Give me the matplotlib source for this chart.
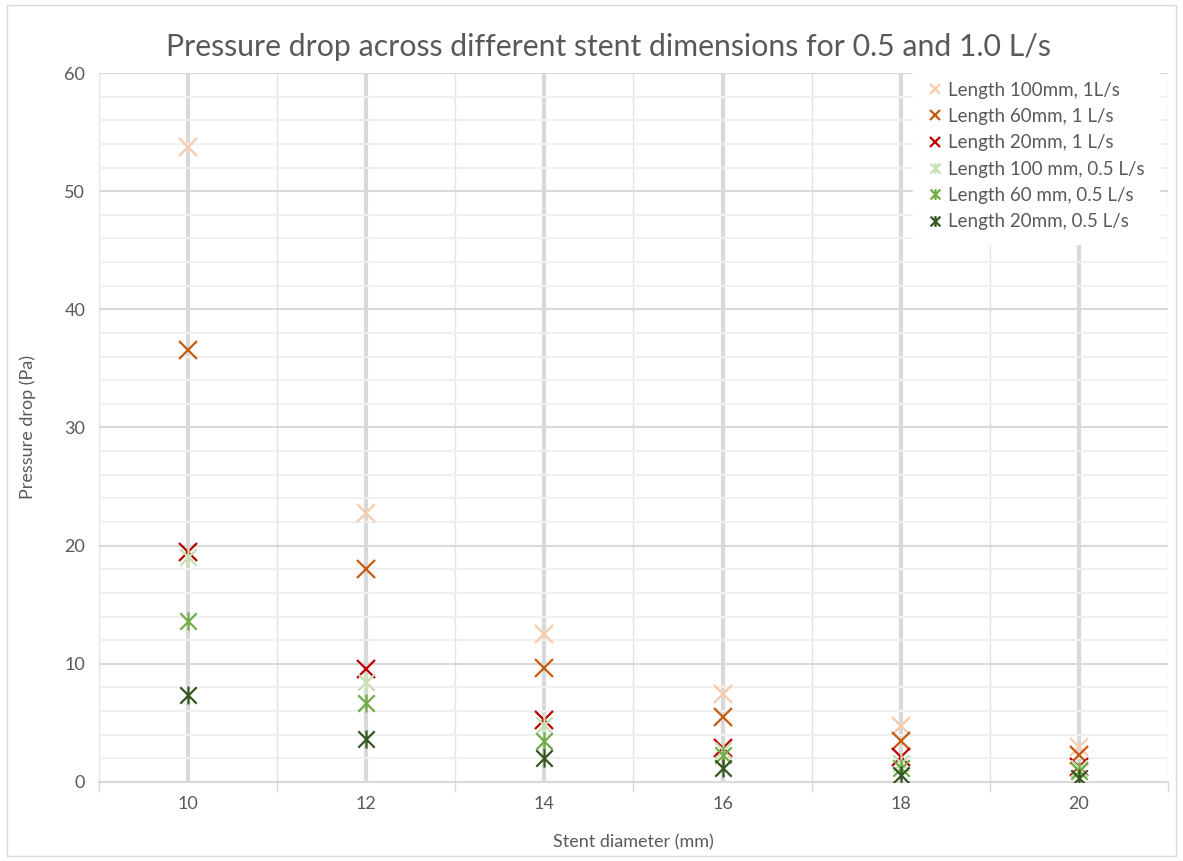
import matplotlib.pyplot as plt
import numpy as np
from matplotlib.path import Path
from matplotlib.patches import Rectangle

plt.rcParams['font.family'] = ['Lato', 'DejaVu Sans']

diameters = ['10', '12', '14', '16', '18', '20']

l100_1 = [53.7, 22.8, 12.5, 7.45, 4.7, 2.95]
l60_1 = [36.6, 18.0, 9.65, 5.5, 3.5, 2.3]
l20_1 = [19.5, 9.6, 5.25, 2.9, 2.1, 1.3]
l100_05 = [19.0, 8.5, 4.8, 2.7, 1.6, 1.2]
l60_05 = [13.6, 6.7, 3.5, 2.3, 1.2, 0.9]
l20_05 = [7.4, 3.6, 2.0, 1.2, 0.6, 0.35]

labels = ['Length 100mm, 1L/s', 'Length 60mm, 1 L/s', 'Length 20mm, 1 L/s',
          'Length 100 mm, 0.5 L/s', 'Length 60 mm, 0.5 L/s', 'Length 20mm, 0.5 L/s']
colors = ['#F8CBAD', '#C55A11', '#C00000', '#C5E0B4', '#70AD47', '#375623']

# excel "star" marker: x plus a vertical bar
star = Path([(-1, -1), (1, 1), (-1, 1), (1, -1), (0, -1.1), (0, 1.1)],
            [Path.MOVETO, Path.LINETO, Path.MOVETO, Path.LINETO, Path.MOVETO, Path.LINETO])

series = [l100_1, l60_1, l20_1, l100_05, l60_05, l20_05]
markers = ['x', 'x', 'x', star, star, star]

fig = plt.figure(figsize=(11.83, 8.61), dpi=100)
ax = fig.add_axes([0.0837, 0.0918, 0.9036, 0.8234])

x = np.arange(len(diameters))
for ys, c, m, lab in zip(series, colors, markers, labels):
    ax.plot(x, ys, linestyle='none', marker=m, color=c, markersize=13,
            markeredgewidth=1.6, label=lab, zorder=3)

ax.set_xlim(-0.5, len(diameters) - 0.5)
ax.set_ylim(0, 60)
ax.set_yticks(np.arange(0, 61, 10))
ax.set_yticks(np.arange(0, 61, 2), minor=True)
ax.set_xticks(x)
ax.set_xticklabels(diameters)
ax.set_xticks(np.arange(-0.5, len(diameters)), minor=True)

ax.grid(which='major', axis='y', color='#d9d9d9', lw=1.5, zorder=0)
ax.grid(which='minor', axis='y', color='#f0f0f0', lw=1.5, zorder=0)
ax.grid(which='major', axis='x', color='#d9d9d9', lw=3, zorder=0)
ax.grid(which='minor', axis='x', color='#e3e3e3', lw=1, zorder=0)
ax.set_axisbelow(True)

for s in ['top', 'right', 'left']:
    ax.spines[s].set_visible(False)
ax.spines['bottom'].set_color('#d9d9d9')
ax.spines['bottom'].set_linewidth(1.5)

ax.tick_params(axis='both', which='major', length=0, labelsize=13, labelcolor='#595959', pad=10)
ax.tick_params(axis='y', which='minor', length=0)
ax.tick_params(axis='x', which='minor', length=7, color='#d9d9d9', width=1)

ax.set_xlabel('Stent diameter (mm)', fontsize=13, color='#595959', labelpad=16)
ax.set_ylabel('Pressure drop (Pa)', fontsize=13, color='#595959', labelpad=20)
fig.text(0.514, 0.945, 'Pressure drop across different stent dimensions for 0.5 and 1.0 L/s',
         ha='center', va='center', fontsize=21.8, color='#595959')

leg = ax.legend(loc='upper right', bbox_to_anchor=(1.0, 1.021), fontsize=13.5, frameon=True,
                fancybox=False, edgecolor='white', framealpha=1, handlelength=0.8,
                handletextpad=0.3, labelspacing=0.5, borderpad=0.75, markerscale=0.6)
for t in leg.get_texts():
    t.set_color('#595959')

fig.patches.append(Rectangle((0.006, 0.006), 0.988, 0.988, transform=fig.transFigure,
                             fill=False, edgecolor='#d9d9d9', lw=1))

fig.savefig('out.png', dpi=100)
